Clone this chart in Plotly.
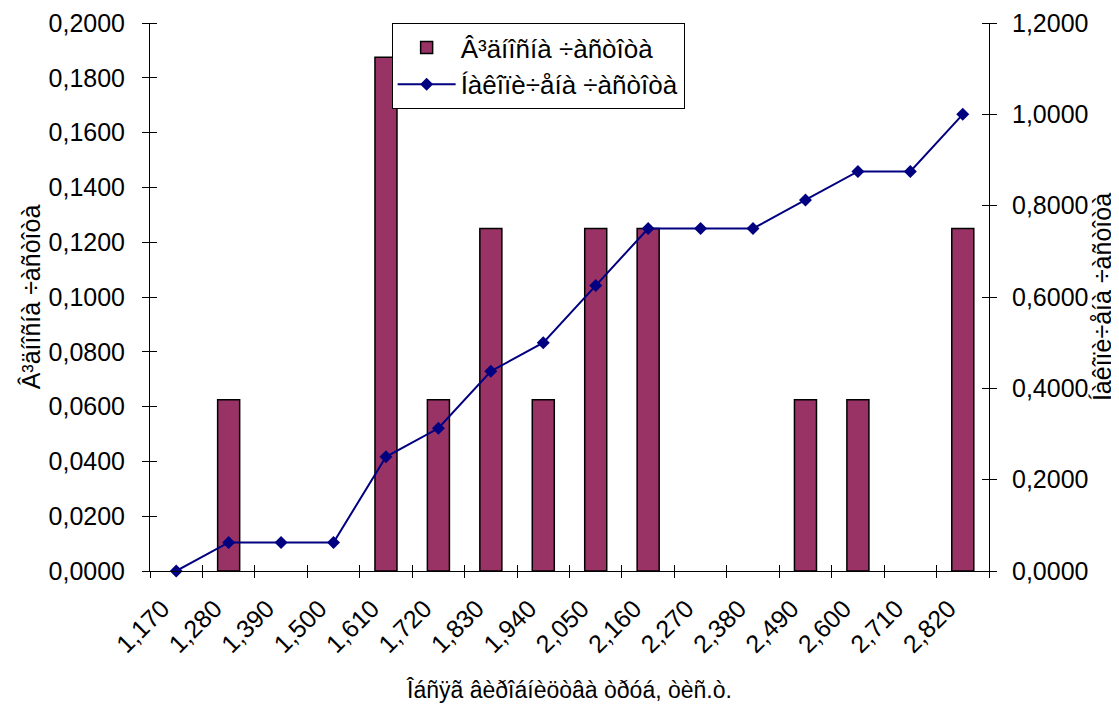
import plotly.graph_objects as go

categories = ["1,170", "1,280", "1,390", "1,500", "1,610", "1,720", "1,830", "1,940",
              "2,050", "2,160", "2,270", "2,380", "2,490", "2,600", "2,710", "2,820"]
relative_freq = [0, 0.0625, 0, 0, 0.1875, 0.0625, 0.125, 0.0625,
                 0.125, 0.125, 0, 0, 0.0625, 0.0625, 0, 0.125]
cumulative_freq = [0, 0.0625, 0.0625, 0.0625, 0.25, 0.3125, 0.4375, 0.5,
                   0.625, 0.75, 0.75, 0.75, 0.8125, 0.875, 0.875, 1.0]

left_ticks = [i * 0.02 for i in range(11)]
left_labels = [("%.4f" % v).replace(".", ",") for v in left_ticks]
right_ticks = [i * 0.2 for i in range(7)]
right_labels = [("%.4f" % v).replace(".", ",") for v in right_ticks]

name_rel = "Â³äíîñíà ÷àñòîòà"
name_cum = "Íàêîïè÷åíà ÷àñòîòà"
x_title = "Îáñÿã âèðîáíèöòâà òðóá, òèñ.ò."

FONT = "Liberation Sans, Arial, sans-serif"
FS = 25

# zero-height bars are not drawn (no outline on the axis)
bar_y = [v if v else None for v in relative_freq]

fig = go.Figure()
fig.add_trace(go.Bar(
    x=categories, y=bar_y, name=name_rel,
    marker=dict(color="#993366", line=dict(color="black", width=1.5)),
    xaxis="x", yaxis="y",
))
fig.add_trace(go.Scatter(
    x=categories, y=cumulative_freq, name=name_cum, mode="lines+markers",
    line=dict(color="#000080", width=2),
    marker=dict(symbol="diamond", size=10, color="#000080"),
    cliponaxis=False, xaxis="x", yaxis="y2",
))
# placeholder trace to draw inner half of x tick marks
fig.add_trace(go.Scatter(
    x=categories, y=[0] * len(categories), mode="none", showlegend=False,
    hoverinfo="skip", xaxis="x3", yaxis="y",
))

fig.update_layout(
    width=1111, height=698,
    margin=dict(l=142, r=130, t=15, b=135),
    paper_bgcolor="white", plot_bgcolor="white",
    font=dict(family=FONT, size=FS, color="black"),
    bargap=0.58,
    showlegend=True,
    legend=dict(
        x=0.288, y=1.0, xanchor="left", yanchor="top",
        bgcolor="white", bordercolor="black", borderwidth=1,
        itemwidth=58,
        font=dict(family=FONT, size=26, color="black"),
    ),
    xaxis=dict(
        type="category", categoryorder="array", categoryarray=categories,
        range=[-0.5, 15.5], tickson="boundaries", automargin=False,
        ticks="outside", ticklen=6, tickcolor="black", tickwidth=1,
        ticklabelstandoff=12, ticklabelshift=-14,
        showline=True, linecolor="black", linewidth=1,
        showgrid=False, zeroline=False, tickangle=-45,
        tickfont=dict(family=FONT, size=FS),
        title=dict(text=x_title, standoff=24, font=dict(family=FONT, size=23)),
    ),
    xaxis3=dict(
        type="category", categoryorder="array", categoryarray=categories,
        range=[-0.5, 15.5], tickson="boundaries", overlaying="x", anchor="y",
        ticks="inside", ticklen=6, tickcolor="black", tickwidth=1, automargin=False,
        showticklabels=False, showline=False, showgrid=False, zeroline=False,
    ),
    yaxis=dict(
        range=[0, 0.2], tickvals=left_ticks, ticktext=left_labels, automargin=False,
        ticks="outside", ticklen=7, tickcolor="black", tickwidth=1,
        minor=dict(tickvals=left_ticks, ticks="inside", ticklen=7, tickcolor="black", tickwidth=1),
        ticklabelstandoff=12,
        showline=True, linecolor="black", linewidth=1,
        showgrid=False, zeroline=False,
        tickfont=dict(family=FONT, size=FS),
        title=dict(text=name_rel, standoff=0, font=dict(family=FONT, size=FS)),
    ),
    yaxis2=dict(
        range=[0, 1.2], tickvals=right_ticks, ticktext=right_labels, automargin=False,
        overlaying="y", side="right", anchor="x",
        ticks="outside", ticklen=7, tickcolor="black", tickwidth=1,
        minor=dict(tickvals=right_ticks, ticks="inside", ticklen=7, tickcolor="black", tickwidth=1),
        ticklabelstandoff=10,
        showline=True, linecolor="black", linewidth=1,
        showgrid=False, zeroline=False,
        tickfont=dict(family=FONT, size=FS),
        title=dict(text=name_cum, standoff=0, font=dict(family=FONT, size=FS)),
    ),
)

fig.write_html("out.html")
